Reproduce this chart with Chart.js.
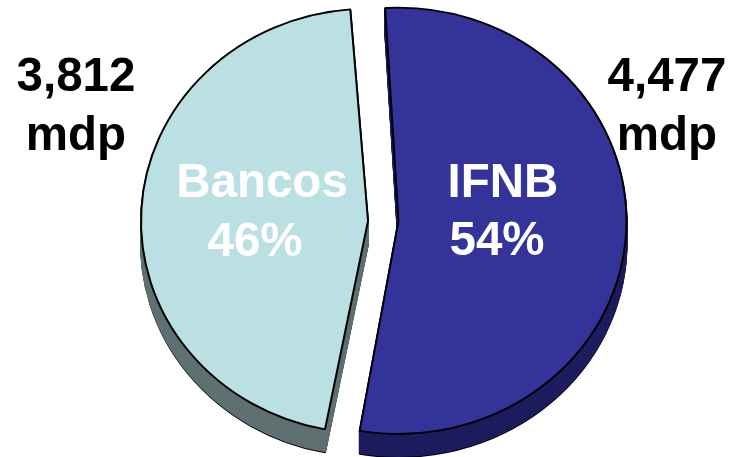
<!DOCTYPE html>
<html>
<head>
<meta charset="utf-8">
<style>
  html, body { margin: 0; background: #fff; }
  canvas { display: block; }
</style>
<script src="https://cdn.jsdelivr.net/npm/chart.js@4"></script>
</head>
<body>
<canvas id="pie" width="730" height="457"></canvas>
<script>
const categories = ["IFNB", "Bancos"];
const amounts = [4477, 3812];
const shares = ["54%", "46%"];
const amountLabels = ["4,477", "3,812"];
const unitLabel = "mdp";
const topColors = ["#333399", "#BBE0E3"];
const sideColors = ["#1C1C5E", "#5F7072"];

// the library only draws round pies, so squash and shift it to fake the 3d tilt
const tilt = { x: 382.5, y: 220, scaleY: 0.935, depth: 23 };

// Bancos comes out a bit small and high with offset, so nudge it back
const sliceFix = [
  { radius: 0, x: 0, y: 0 },
  { radius: 3, x: 1.5, y: 2 },
];

const textSpots = [
  { text: categories[0], x: 503, y: 197, color: "#fff" },
  { text: shares[0], x: 497, y: 255, color: "#fff" },
  { text: categories[1], x: 262, y: 197, color: "#fff" },
  { text: shares[1], x: 255, y: 256, color: "#fff" },
  { text: amountLabels[0], x: 667, y: 91, color: "#000" },
  { text: unitLabel, x: 667, y: 150, color: "#000" },
  { text: amountLabels[1], x: 76, y: 91, color: "#000" },
  { text: unitLabel, x: 76, y: 150, color: "#000" },
];

// -------------------------------
// Squash plus extruded side wall
// -------------------------------
const tiltPlugin = {
  id: "tilt",
  afterDatasetsUpdate(chart) {
    chart.getDatasetMeta(0).data.forEach((arc, i) => {
      arc.outerRadius += sliceFix[i].radius;
      arc.x += sliceFix[i].x;
      arc.y += sliceFix[i].y;
    });
  },
  beforeDatasetsDraw(chart) {
    const { ctx, width, height } = chart;
    const arcs = chart.getDatasetMeta(0).data;
    ctx.save();
    ctx.translate(tilt.x, tilt.y);
    ctx.scale(1, tilt.scaleY);
    ctx.translate(-width / 2, -height / 2);

    for (let d = tilt.depth; d > 0; d--) {
      arcs.forEach((arc, i) => {
        const saved = arc.options;
        arc.options = {
          ...saved,
          backgroundColor: sideColors[i],
          borderColor: d === tilt.depth ? "#000" : sideColors[i],
        };
        ctx.save();
        ctx.translate(0, d / tilt.scaleY);
        arc.draw(ctx);
        ctx.restore();
        arc.options = saved;
      });
    }
  },
  afterDatasetsDraw(chart) {
    const { ctx } = chart;
    ctx.restore();

    ctx.save();
    ctx.font = "bold 47.5px 'Liberation Sans'";
    ctx.textAlign = "center";
    textSpots.forEach((t) => {
      ctx.fillStyle = t.color;
      ctx.fillText(t.text, t.x, t.y);
    });
    ctx.restore();
  },
};

new Chart(document.getElementById("pie").getContext("2d"), {
  type: "pie",
  data: {
    labels: categories,
    datasets: [
      {
        data: amounts,
        backgroundColor: topColors,
        borderColor: "#000",
        borderWidth: 2,
        offset: 64,
      },
    ],
  },
  options: {
    responsive: false,
    animation: false,
    rotation: -4,
    radius: 212,
    plugins: {
      legend: { display: false },
      tooltip: { enabled: false },
    },
  },
  plugins: [tiltPlugin],
});
</script>
</body>
</html>
